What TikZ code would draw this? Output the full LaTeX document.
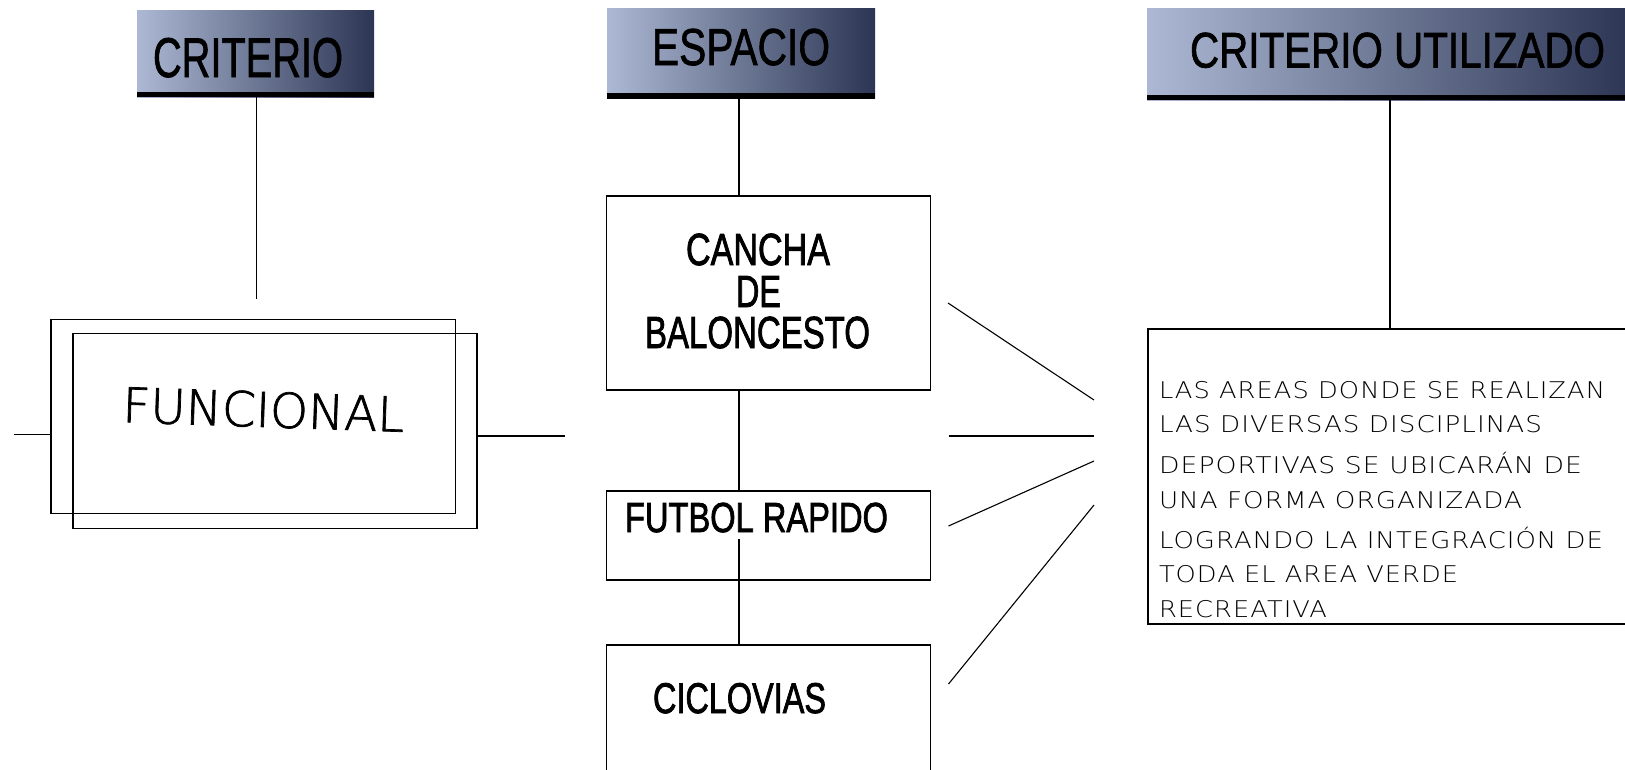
\documentclass[tikz,border=0pt]{standalone}
\usepackage{graphicx}
\usepackage{fontspec}
\setmainfont{Liberation Sans}
\newfontfamily\hdrfont{Liberation Sans}[FakeBold=1.5]
\newfontfamily\midfont{Liberation Sans}[FakeBold=2]
\IfFontExistsTF{DejaVu Sans ExtraLight}
  {\newfontfamily\thinfont{DejaVu Sans ExtraLight}[FakeBold=1.5]\newfontfamily\cadfont{DejaVu Sans ExtraLight}[LetterSpace=4]}
  {\newfontfamily\thinfont{Liberation Sans}\newfontfamily\cadfont{Liberation Sans}[LetterSpace=8]}
\definecolor{hdrL}{RGB}{172,184,212}
\definecolor{hdrR}{RGB}{44,54,84}
\newsavebox\fitsbox
\newcommand\fitw[2]{\sbox\fitsbox{#2}\edef\fitnat{\the\wd\fitsbox}\pgfmathsetmacro\fitsx{#1/\fitnat}\scalebox{\fitsx}[1]{\usebox\fitsbox}}
\newcommand\fsz[1]{\fontsize{#1}{#1}\selectfont}
\begin{document}
\begin{tikzpicture}[x=1pt,y=-1pt,line width=1.3pt,
  hdr/.style={draw=none,left color=hdrL,right color=hdrR,inner sep=0pt,outer sep=0pt,anchor=north west,
    path picture={\fill[black] (path picture bounding box.south west) rectangle ([yshift=5.5pt]path picture bounding box.south east);}},
  box/.style={draw,line width=1.3pt,inner sep=0pt,outer sep=0pt,anchor=north west},
  txt/.style={inner sep=0pt,outer sep=0pt,anchor=base west},
  thin/.style={line width=1.1pt}]
\useasboundingbox (0,0) rectangle (1625,769);
% headers
\node[hdr,minimum width=237pt,minimum height=87pt] (h1) at (137,10) {};
\node[hdr,minimum width=268pt,minimum height=90pt] (h2) at (607,8.5) {};
\node[hdr,minimum width=483pt,minimum height=92pt] (h3) at (1147,8) {};
\node[txt] (t1) at (153,77) {\hdrfont\fsz{56}\fitw{190}{CRITERIO}};
\node[txt] (t2) at (652,65) {\hdrfont\fsz{52}\fitw{178}{ESPACIO}};
\node[txt] (t3) at (1190,67.5) {\hdrfont\fsz{50}\fitw{415}{CRITERIO UTILIZADO}};
% left column
\coordinate (c1) at (256.5,299);
\draw (h1.south -| c1) -- (c1);
\node[box,minimum width=404.5pt,minimum height=194pt] (fa) at (51,319.5) {};
\node[box,minimum width=404pt,minimum height=195pt] (fb) at (73,333.5) {};
\coordinate (l0) at (14,434.3);
\draw (l0) -- (l0 -| fa.west);
\coordinate (r0) at (565,436);
\draw (fb.east |- r0) -- (r0);
\node[txt,rotate=-2] (ft) at (122,422) {\thinfont\fsz{48}\fitw{282}{FUNCIONAL}};
% middle column
\node[box,minimum width=324pt,minimum height=194pt] (ca) at (606.5,196) {};
\node[box,minimum width=324pt,minimum height=89pt] (fu) at (606.5,491) {};
\node[box,minimum width=324pt,minimum height=140pt] (ci) at (606.5,645) {};
\coordinate (m) at (739,0);
\draw (h2.south -| m) -- (ca.north -| m);
\draw (ca.south -| m) -- (fu.north -| m);
\coordinate (fi) at (739,539);
\draw (fi) -- (ci.north -| fi);
\node[txt] (tc1) at (686,265) {\midfont\fsz{45}\fitw{144}{CANCHA}};
\node[txt] (tc2) at (736,307) {\midfont\fsz{45}\fitw{45}{DE}};
\node[txt] (tc3) at (645,348) {\midfont\fsz{45}\fitw{225}{BALONCESTO}};
\node[txt] (tf) at (625,532) {\midfont\fsz{42}\fitw{263}{FUTBOL RAPIDO}};
\node[txt] (tci) at (653,713) {\midfont\fsz{43}\fitw{173}{CICLOVIAS}};
% diagonal strokes
\coordinate (d1a) at (948,303);   \coordinate (d1b) at (1094,400);
\coordinate (d2a) at (948.5,436); \coordinate (d2b) at (1094,436);
\coordinate (d3a) at (948.5,526); \coordinate (d3b) at (1094,461);
\coordinate (d4a) at (948.5,684); \coordinate (d4b) at (1094,505);
\draw[thin] (d1a) -- (d1b);
\draw[thin] (d2a) -- (d2b);
\draw[thin] (d3a) -- (d3b);
\draw[thin] (d4a) -- (d4b);
% right column
\node[box,minimum width=490pt,minimum height=295pt] (rb) at (1148,329) {};
\coordinate (v3) at (1390,0);
\draw (h3.south -| v3) -- (rb.north -| v3);
\node[txt] (p1) at (1159,398) {\cadfont\fsz{23}\fitw{446}{LAS AREAS DONDE SE REALIZAN}};
\node[txt] (p2) at (1159,432) {\cadfont\fsz{23}\fitw{383}{LAS DIVERSAS DISCIPLINAS}};
\node[txt] (p3) at (1159,473) {\cadfont\fsz{23}\fitw{423}{DEPORTIVAS SE UBICARÁN DE}};
\node[txt] (p4) at (1159,508) {\cadfont\fsz{23}\fitw{363}{UNA FORMA ORGANIZADA}};
\node[txt] (p5) at (1159,548) {\cadfont\fsz{23}\fitw{444}{LOGRANDO LA INTEGRACIÓN DE}};
\node[txt] (p6) at (1159,582) {\cadfont\fsz{23}\fitw{299}{TODA EL AREA VERDE}};
\node[txt] (p7) at (1159,617) {\cadfont\fsz{23}\fitw{168}{RECREATIVA}};
\end{tikzpicture}
\end{document}
